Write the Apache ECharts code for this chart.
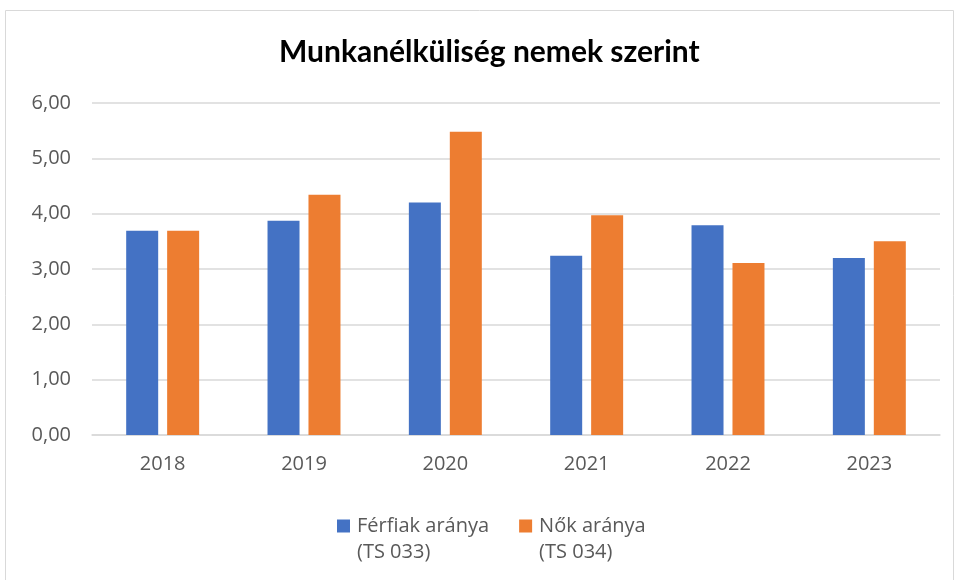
<!DOCTYPE html>
<html>
<head>
<meta charset="utf-8">
<script src="https://cdn.jsdelivr.net/npm/echarts@6/dist/echarts.min.js"></script>
<style>
  html, body { margin: 0; padding: 0; background: #fff; }
  #chart { width: 958px; height: 580px; }
</style>
</head>
<body>
<div id="chart"></div>
<script>
// Years on the x axis
const years = ["2018", "2019", "2020", "2021", "2022", "2023"];

// Unemployment rate, men and women (%)
const ferfiak = [3.69, 3.87, 4.20, 3.24, 3.79, 3.20];
const nok = [3.69, 4.34, 5.48, 3.97, 3.11, 3.50];

const seriesNames = ["Férfiak aránya\n(TS 033)", "Nők aránya\n(TS 034)"];

const chart = echarts.init(document.getElementById("chart"));

const labelFont = "Open Sans";

const option = {
    animation: false,
    title: {
        text: "Munkanélküliség nemek szerint",
        left: 274,
        top: 32,
        textStyle: {
            fontFamily: "Lato",
            fontWeight: "bold",
            fontSize: 30,
            color: "#000",
        },
    },
    graphic: [
        {
            type: "rect",
            shape: { x: 5.5, y: 10.5, width: 948, height: 580 },
            style: { fill: "none", stroke: "#d9d9d9", lineWidth: 1 },
            silent: true,
        },
    ],
    legend: {
        top: 508,
        left: 332,
        // square sits at the top of a taller box so it lines up with the first text line
        icon: "path://M0,0H13V13H0Z M0,39",
        itemWidth: 13,
        itemHeight: 39,
        itemGap: 30,
        textStyle: {
            fontFamily: labelFont,
            fontSize: 20,
            color: "#595959",
            lineHeight: 26,
            padding: [0, 0, 0, 2],
        },
        data: seriesNames,
    },
    grid: {
        left: 92,
        right: 18,
        top: 103,
        bottom: 145,
    },
    xAxis: {
        type: "category",
        data: years,
        axisTick: { show: false },
        axisLine: { lineStyle: { color: "#d9d9d9", width: 1.5 } },
        axisLabel: {
            fontFamily: labelFont,
            fontSize: 20,
            color: "#595959",
            margin: 19,
        },
    },
    yAxis: {
        type: "value",
        min: 0,
        max: 6,
        interval: 1,
        axisLine: { show: false },
        axisTick: { show: false },
        splitLine: { lineStyle: { color: "#d9d9d9", width: 1.5 } },
        axisLabel: {
            fontFamily: labelFont,
            fontSize: 20,
            color: "#595959",
            margin: 21,
            formatter: (v) => v.toFixed(2).replace(".", ","),
        },
    },
    series: [
        {
            name: seriesNames[0],
            type: "bar",
            data: ferfiak,
            barWidth: 32,
            barGap: "28%",
            itemStyle: { color: "#4472C4" },
        },
        {
            name: seriesNames[1],
            type: "bar",
            data: nok,
            barWidth: 32,
            itemStyle: { color: "#ED7D31" },
        },
    ],
};

chart.setOption(option);
</script>
</body>
</html>
